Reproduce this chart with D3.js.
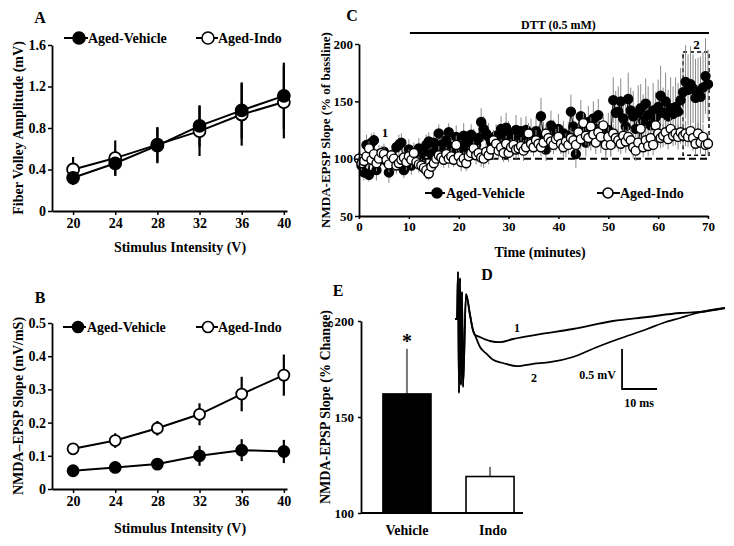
<!DOCTYPE html>
<html><head><meta charset="utf-8">
<script src="https://cdn.jsdelivr.net/npm/d3@7"></script>
<style>
body{margin:0;background:#fff}
svg{display:block}
text{font-family:"Liberation Serif","Times New Roman",serif;font-weight:bold;fill:#000}
</style>
</head><body>
<svg id="fig" width="734" height="546"></svg>
<script>
// ---------- Panel A: fiber volley ----------
const intensities = [20, 24, 28, 32, 36, 40];
const fvVehicle    = [0.32, 0.46, 0.63, 0.82, 0.97, 1.11];
const fvVehicleErr = [0.07, 0.12, 0.17, 0.20, 0.27, 0.32];
const fvIndo       = [0.40, 0.51, 0.64, 0.77, 0.93, 1.05];
const fvIndoErr    = [0.12, 0.17, 0.17, 0.24, 0.30, 0.35];
const fvTicks      = [0, 0.4, 0.8, 1.2, 1.6];

// ---------- Panel B: NMDA-EPSP slope ----------
const slopeVehicle    = [0.055, 0.065, 0.075, 0.100, 0.117, 0.113];
const slopeVehicleErr = [0.010, 0.010, 0.012, 0.030, 0.033, 0.035];
const slopeIndo       = [0.121, 0.146, 0.183, 0.225, 0.286, 0.343];
const slopeIndoErr    = [0.010, 0.022, 0.022, 0.033, 0.052, 0.062];
const slopeTicks      = [0, 0.1, 0.2, 0.3, 0.4, 0.5];

// ---------- Panel C: time course (every 0.5 min, 0-70) ----------
const timeTicks = [0, 10, 20, 30, 40, 50, 60, 70];
const pctTicks  = [50, 100, 150, 200];
const tcVehicle = [
 100,94,88,112,86,114,116,90,104,100,
 106,98,88,102,96,110,112,114,90,96,
 108,94,104,100,109,98,106,112,115,104,
 114,108,122,112,106,116,123,110,104,119,
 112,108,120,114,110,121,116,112,118,132,
 126,122,119,114,110,120,115,126,118,127,
 121,116,112,125,118,124,114,125,119,122,
 116,124,118,137,120,108,115,129,122,118,
 126,116,122,114,120,141,128,104,118,137,
 124,114,132,120,135,126,138,118,124,114,
 125,120,151,140,141,150,135,128,152,142,
 137,126,140,144,133,148,138,129,142,136,
 145,155,140,150,137,144,139,145,141,151,
 158,167,160,165,161,153,156,154,162,172,
 165];
const tcVehicleErr = [
 6,8,7,9,6,8,7,9,8,6,
 7,8,9,6,8,7,9,8,7,8,
 9,8,10,7,9,8,10,9,8,10,
 9,10,8,11,9,10,8,9,11,10,
 10,9,11,10,12,9,10,11,9,12,
 11,10,12,9,11,10,12,11,10,13,
 12,11,10,13,11,12,10,12,11,13,
 12,13,11,16,12,10,11,13,12,11,
 13,12,11,13,12,15,14,12,13,14,
 13,12,14,13,15,12,14,13,12,14,
 15,18,20,19,22,20,18,21,23,20,
 22,20,24,21,23,22,25,21,24,22,
 24,26,22,25,23,27,24,26,25,28,
 30,32,31,33,30,34,32,35,31,33,
 30];
const tcIndo = [
 100,96,98,102,109,99,104,96,100,105,
 104,99,95,103,100,94,96,99,101,97,
 102,99,105,97,95,94,92,90,87,93,
 96,100,103,101,99,104,100,102,99,112,
 102,97,100,96,102,105,109,103,105,101,
 100,106,103,108,116,113,107,110,105,113,
 105,110,112,108,109,111,107,110,122,113,
 110,116,113,110,114,122,118,115,112,117,
 119,113,110,115,112,118,116,112,123,117,
 131,120,118,128,121,114,123,119,129,112,
 119,112,122,118,116,113,120,115,119,116,
 110,107,114,126,110,116,111,118,112,129,
 122,118,120,123,117,126,120,122,119,123,
 120,122,119,124,118,113,122,114,119,112,
 113];
const tcIndoErr = [
 5,6,5,7,6,5,6,7,5,6,
 6,5,7,6,5,7,6,5,6,7,
 6,7,5,6,7,6,7,8,6,7,
 7,6,8,6,7,6,8,7,6,8,
 7,8,6,7,8,7,6,8,7,8,
 8,7,8,6,9,7,8,7,8,7,
 8,7,9,8,7,8,9,7,9,8,
 8,9,7,8,9,8,7,9,8,9,
 9,8,9,7,8,9,8,9,8,9,
 9,8,9,8,9,10,8,9,8,9,
 9,10,8,9,10,9,8,10,9,10,
 10,9,10,8,9,10,9,10,9,10,
 10,9,10,11,9,10,9,10,11,10,
 10,11,9,10,11,10,9,10,11,10,
 10];
const dttStart = 10, dttEnd = 70;
const boxWindow = [65, 70.2], boxRange = [103, 193];

// ---------- Panel D: sample traces (ms, mV) ----------
const trace1T = [0,0.57,0.86,1.14,1.43,1.71,2.0,2.29,3.14,4.29,5.14,5.71,6.29,10,12.86,16.57,24.3,33.7,45.1,54.9,64.3,70,77.1];
const trace1V = [0,0,0.59,-0.925,0.51,-0.825,0.34,-0.85,0.31,0.05,-0.14,-0.2,-0.21,-0.275,-0.29,-0.25,-0.19,-0.125,-0.025,0.025,0.075,0.0875,0.1375];
const trace2T = [0,0.57,0.86,1.14,1.43,1.71,2.0,2.29,3.14,4.29,5.14,5.71,7.14,9.14,10.86,13.7,17.7,22.3,27.1,33.7,40.6,45.1,50,54.9,59.4,64.3,69.1,77.1];
const trace2V = [0,0,0.59,-0.925,0.51,-0.825,0.34,-0.85,0.31,0.05,-0.14,-0.2,-0.35,-0.44,-0.51,-0.55,-0.59,-0.56,-0.54,-0.475,-0.35,-0.275,-0.2,-0.125,-0.05,0.0125,0.075,0.1375];
const scaleBarMs = 10, scaleBarMv = 0.5;

// ---------- Panel E: bar summary ----------
const groups     = ["Vehicle", "Indo"];
const changeMean = [162, 119];
const changeErr  = [23.5, 5];
const changeTicks = [100, 150, 200];

const svg = d3.select("#fig");

function styleAxis(g, fs) {
  g.attr("font-family", null).attr("font-size", null);
  g.selectAll("text").style("font-size", (fs || 14) + "px");
  g.select(".domain").attr("stroke-width", 1.8).attr("stroke", "#000");
  g.selectAll(".tick line").attr("stroke-width", 1.5).attr("stroke", "#000");
}
function label(x, y, txt, size, anchor, rot) {
  const t = svg.append("text").attr("x", x).attr("y", y).text(txt)
    .style("font-size", size + "px").attr("text-anchor", anchor || "middle");
  if (rot) t.attr("transform", `rotate(-90,${x},${y})`);
  return t;
}
function legendItem(x0, x1, mx, y, filled, txt, r, tx) {
  svg.append("line").attr("x1", x0).attr("x2", x1).attr("y1", y).attr("y2", y)
    .attr("stroke", "#000").attr("stroke-width", 2);
  svg.append("circle").attr("cx", mx).attr("cy", y).attr("r", r)
    .attr("fill", filled ? "#000" : "#fff").attr("stroke", "#000").attr("stroke-width", 1.6);
  svg.append("text").attr("x", tx).attr("y", y + 5).text(txt).style("font-size", "14px");
}

// ===== line panels A & B =====
function linePanel(opt) {
  const x = d3.scaleLinear().domain([18, 40.3]).range([52, 287]);
  const y = d3.scaleLinear().domain(opt.domain).range(opt.range);
  const gy = svg.append("g").attr("transform", "translate(52,0)")
    .call(d3.axisLeft(y).tickValues(opt.ticks).tickSize(4).tickPadding(2).tickSizeOuter(0)
      .tickFormat(d => d === 0 ? "0" : d3.format(".1f")(d)));
  styleAxis(gy);
  const gx = svg.append("g").attr("transform", `translate(0,${opt.range[0]})`)
    .call(d3.axisBottom(x).tickValues(intensities).tickSize(4).tickPadding(3).tickSizeOuter(0)
      .tickFormat(d3.format("d")));
  styleAxis(gx);
  const series = opt.series;
  series.forEach(s => {
    const g = svg.append("g");
    g.selectAll("line.e").data(s.vals).join("line")
      .attr("x1", (d, i) => x(intensities[i])).attr("x2", (d, i) => x(intensities[i]))
      .attr("y1", (d, i) => y(d - s.errs[i])).attr("y2", (d, i) => y(d + s.errs[i]))
      .attr("stroke", "#000").attr("stroke-width", 2.2);
  });
  series.forEach(s => {
    const g = svg.append("g");
    g.append("path").datum(s.vals)
      .attr("d", d3.line().x((d, i) => x(intensities[i])).y(d => y(d)))
      .attr("fill", "none").attr("stroke", "#000").attr("stroke-width", 2);
    g.selectAll("circle").data(s.vals).join("circle")
      .attr("cx", (d, i) => x(intensities[i])).attr("cy", d => y(d)).attr("r", opt.r)
      .attr("fill", s.filled ? "#000" : "#fff").attr("stroke", "#000").attr("stroke-width", 1.8);
  });
}

linePanel({ domain: [0, 1.6], range: [211, 45], ticks: fvTicks, r: 6,
  series: [{ vals: fvIndo, errs: fvIndoErr, filled: false },
           { vals: fvVehicle, errs: fvVehicleErr, filled: true }] });
label(40, 23, "A", 16);
legendItem(64, 88, 79, 38, true, "Aged-Vehicle", 6, 88);
legendItem(196, 218, 208, 38, false, "Aged-Indo", 6, 218);
label(180, 252, "Stimulus  Intensity (V)", 14);
label(23, 128, "Fiber Volley Amplitude (mV)", 14, "middle", true);

linePanel({ domain: [0, 0.5], range: [489, 323], ticks: slopeTicks, r: 5.5,
  series: [{ vals: slopeIndo, errs: slopeIndoErr, filled: false },
           { vals: slopeVehicle, errs: slopeVehicleErr, filled: true }] });
label(40, 303, "B", 16);
legendItem(63, 86, 78, 327, true, "Aged-Vehicle", 5.5, 87);
legendItem(196, 218, 208, 327, false, "Aged-Indo", 5.5, 218);
label(180, 533, "Stimulus  Intensity (V)", 14);
label(23, 406, "NMDA\u2013EPSP Slope (mV/mS)", 14, "middle", true);

// ===== Panel C =====
(function () {
  const times = d3.range(0, 70.001, 0.5);
  const x = d3.scaleLinear().domain([0, 70]).range([359, 708]);
  const y = d3.scaleLinear().domain([50, 200]).range([216, 44]);
  svg.append("line").attr("x1", x(0)).attr("x2", x(70)).attr("y1", y(100)).attr("y2", y(100))
    .attr("stroke", "#000").attr("stroke-width", 2).attr("stroke-dasharray", "7,4");
  svg.append("rect").attr("x", x(boxWindow[0])).attr("y", y(boxRange[1]))
    .attr("width", x(boxWindow[1]) - x(boxWindow[0])).attr("height", y(boxRange[0]) - y(boxRange[1]))
    .attr("fill", "none").attr("stroke", "#000").attr("stroke-width", 1.5).attr("stroke-dasharray", "4,3");
  function series(vals, errs, filled) {
    const g = svg.append("g");
    g.selectAll("line").data(vals).join("line")
      .attr("x1", (d, i) => x(times[i])).attr("x2", (d, i) => x(times[i]))
      .attr("y1", (d, i) => y(d - errs[i])).attr("y2", (d, i) => y(d + errs[i]))
      .attr("stroke", "#8a8a8a").attr("stroke-width", 1);
    g.append("path").datum(vals)
      .attr("d", d3.line().x((d, i) => x(times[i])).y(d => y(d)))
      .attr("fill", "none").attr("stroke", "#000").attr("stroke-width", 1);
    g.selectAll("circle").data(vals).join("circle")
      .attr("cx", (d, i) => x(times[i])).attr("cy", d => y(d)).attr("r", 4.5)
      .attr("fill", filled ? "#000" : "#fff").attr("stroke", "#000").attr("stroke-width", 1.4);
  }
  series(tcVehicle, tcVehicleErr, true);
  series(tcIndo, tcIndoErr, false);

  const gy = svg.append("g").attr("transform", `translate(${x(0)},0)`)
    .call(d3.axisLeft(y).tickValues(pctTicks).tickSize(4).tickPadding(2).tickSizeOuter(0));
  styleAxis(gy, 13);
  const gx = svg.append("g").attr("transform", `translate(0,${y(50)})`)
    .call(d3.axisBottom(x).tickValues(timeTicks).tickSize(3).tickPadding(3).tickSizeOuter(0));
  styleAxis(gx, 13);

  svg.append("line").attr("x1", x(dttStart) + 1).attr("x2", x(dttEnd) + 1).attr("y1", 33).attr("y2", 33)
    .attr("stroke", "#000").attr("stroke-width", 2);
  label((x(dttStart) + x(dttEnd)) / 2, 29, "DTT (0.5 mM)", 12);
  label(352, 21, "C", 16);
  label(385, 137, "1", 13);
  label(x(67.7), 49, "2", 13);
  legendItem(425, 445, 437, 193, true, "Aged-Vehicle", 5, 446);
  legendItem(597, 620, 608, 193, false, "Aged-Indo", 5, 620);
  label(540, 257, "Time (minutes)", 14);
  label(330, 130, "NMDA-EPSP Slope (% of bassline)", 13, "middle", true);
})();

// ===== Panel D =====
(function () {
  const x = d3.scaleLinear().domain([0, 77.1]).range([455, 725]);
  const y = d3.scaleLinear().domain([-1, 1]).range([399, 239]);
  const line = d3.line().x(d => x(d[0])).y(d => y(d[1])).curve(d3.curveMonotoneX);
  svg.append("path").datum(trace2T.map((t, i) => [t, trace2V[i]])).attr("d", line)
    .attr("fill", "none").attr("stroke", "#000").attr("stroke-width", 1.8);
  svg.append("path").datum(trace1T.map((t, i) => [t, trace1V[i]])).attr("d", line)
    .attr("fill", "none").attr("stroke", "#000").attr("stroke-width", 1.8);
  const sbT = 47.7, sbV = -0.875;
  svg.append("path")
    .attr("d", `M${x(sbT)},${y(sbV + scaleBarMv)}L${x(sbT)},${y(sbV)}L${x(sbT + scaleBarMs)},${y(sbV)}`)
    .attr("fill", "none").attr("stroke", "#000").attr("stroke-width", 1.8);
  label(x(sbT) - 6, 379, "0.5 mV", 12, "end");
  label(x(sbT + scaleBarMs / 2) - 0.5, 407, "10 ms", 12);
  label(517, 332, "1", 12);
  label(534, 382, "2", 12);
  label(487, 280, "D", 16);
})();

// ===== Panel E =====
(function () {
  const x = d3.scaleBand().domain(groups).range([365.5, 531.5]).paddingInner(0.4217).paddingOuter(0.21);
  const y = d3.scaleLinear().domain([100, 200]).range([513, 321]);
  const g = svg.append("g");
  g.selectAll("line").data(changeMean).join("line")
    .attr("x1", (d, i) => x(groups[i]) + x.bandwidth() / 2).attr("x2", (d, i) => x(groups[i]) + x.bandwidth() / 2)
    .attr("y1", d => y(d)).attr("y2", (d, i) => y(d + changeErr[i]))
    .attr("stroke", "#777").attr("stroke-width", 2);
  g.selectAll("rect").data(changeMean).join("rect")
    .attr("x", (d, i) => x(groups[i])).attr("width", x.bandwidth())
    .attr("y", d => y(d)).attr("height", d => y(100) - y(d))
    .attr("fill", (d, i) => i === 0 ? "#000" : "#fff").attr("stroke", "#000").attr("stroke-width", 1.6);
  const gy = svg.append("g").attr("transform", "translate(361,0)")
    .call(d3.axisLeft(y).tickValues(changeTicks).tickSize(3).tickPadding(4).tickSizeOuter(0));
  styleAxis(gy, 13);
  svg.append("line").attr("x1", 361).attr("x2", 523).attr("y1", y(100)).attr("y2", y(100))
    .attr("stroke", "#000").attr("stroke-width", 1.8);
  groups.forEach((c, i) => label(x(c) + x.bandwidth() / 2 + (i === 0 ? 0 : 3), 535, c, 14));
  label(x(groups[0]) + x.bandwidth() / 2, 348, "*", 20);
  label(338, 296, "E", 16);
  label(330, 407, "NMDA-EPSP Slope (% Change)", 14, "middle", true);
})();
</script>
</body></html>
